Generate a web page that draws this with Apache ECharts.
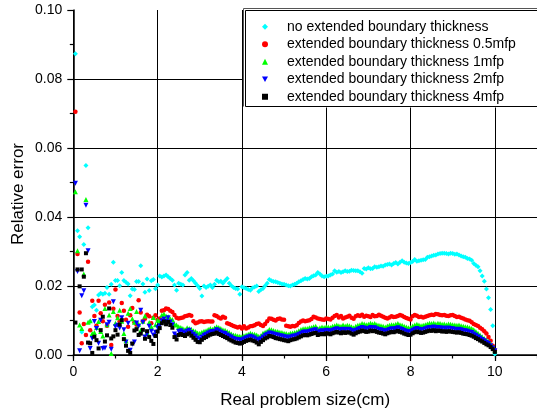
<!DOCTYPE html>
<html>
<head>
<meta charset="utf-8">
<script src="https://cdn.jsdelivr.net/npm/echarts@6/dist/echarts.min.js"></script>
<style>html,body{margin:0;padding:0;background:#fff}#c{width:537px;height:414px}</style>
</head>
<body>
<div id="c"></div>
<script>
// Sample positions: x = 0.05, 0.10, ... 10.00 cm
const xStep = 0.05;

const seriesNames = [
  'no extended boundary thickness',
  'extended boundary thickness 0.5mfp',
  'extended boundary thickness 1mfp',
  'extended boundary thickness 2mfp',
  'extended boundary thickness 4mfp'
];

const noExtended = [
  0.0873,0.0360,0.0343,0.0067,0.0320,0.0549,0.0369,0.0097,0.0140,0.0145,
  0.0130,0.0174,0.0179,0.0176,0.0179,0.0196,0.0176,0.0205,0.0269,0.0216,
  0.0216,0.0201,0.0239,0.0216,0.0211,0.0206,0.0172,0.0191,0.0190,0.0213,
  0.0213,0.0259,0.0206,0.0182,0.0220,0.0187,0.0215,0.0219,0.0192,0.0203,
  0.0229,0.0226,0.0229,0.0232,0.0227,0.0222,0.0217,0.0203,0.0188,0.0208,
  0.0205,0.0203,0.0232,0.0239,0.0217,0.0222,0.0215,0.0208,0.0201,0.0193,
  0.0171,0.0200,0.0196,0.0199,0.0203,0.0196,0.0205,0.0217,0.0212,0.0214,
  0.0208,0.0215,0.0222,0.0208,0.0201,0.0196,0.0193,0.0191,0.0176,0.0198,
  0.0195,0.0193,0.0190,0.0188,0.0194,0.0197,0.0200,0.0184,0.0189,0.0193,
  0.0201,0.0208,0.0219,0.0215,0.0213,0.0212,0.0210,0.0208,0.0206,0.0205,
  0.0203,0.0201,0.0200,0.0203,0.0205,0.0208,0.0212,0.0215,0.0219,0.0222,
  0.0220,0.0222,0.0227,0.0230,0.0232,0.0239,0.0235,0.0229,0.0227,0.0228,
  0.0229,0.0232,0.0235,0.0244,0.0240,0.0242,0.0239,0.0241,0.0244,0.0242,
  0.0243,0.0246,0.0245,0.0244,0.0244,0.0241,0.0237,0.0251,0.0249,0.0253,
  0.0250,0.0251,0.0256,0.0254,0.0256,0.0258,0.0257,0.0261,0.0262,0.0264,
  0.0261,0.0265,0.0268,0.0264,0.0269,0.0273,0.0269,0.0267,0.0265,0.0268,
  0.0271,0.0277,0.0272,0.0273,0.0275,0.0276,0.0277,0.0283,0.0285,0.0287,
  0.0289,0.0290,0.0293,0.0294,0.0295,0.0295,0.0294,0.0293,0.0295,0.0294,
  0.0292,0.0293,0.0290,0.0287,0.0285,0.0283,0.0280,0.0278,0.0275,0.0265,
  0.0260,0.0256,0.0244,0.0229,0.0214,0.0191,0.0166,0.0132,0.0085,0.0003
];

const ext05 = [
  0.0705,0.0293,0.0123,0.0034,0.0090,0.0058,0.0270,0.0072,0.0157,0.0113,
  0.0085,0.0157,0.0121,0.0098,0.0146,0.0085,0.0152,0.0029,0.0134,0.0190,
  0.0113,0.0098,0.0151,0.0128,0.0102,0.0082,0.0115,0.0136,0.0095,0.0088,
  0.0159,0.0123,0.0098,0.0105,0.0117,0.0112,0.0092,0.0108,0.0115,0.0102,
  0.0106,0.0128,0.0130,0.0135,0.0133,0.0128,0.0125,0.0116,0.0108,0.0106,
  0.0107,0.0109,0.0112,0.0114,0.0116,0.0114,0.0098,0.0092,0.0094,0.0097,
  0.0098,0.0096,0.0097,0.0098,0.0097,0.0097,0.0115,0.0113,0.0109,0.0106,
  0.0111,0.0108,0.0092,0.0090,0.0087,0.0084,0.0082,0.0080,0.0082,0.0077,
  0.0083,0.0077,0.0080,0.0083,0.0084,0.0086,0.0090,0.0091,0.0087,0.0084,
  0.0090,0.0098,0.0106,0.0105,0.0102,0.0100,0.0104,0.0106,0.0103,0.0102,
  0.0085,0.0083,0.0082,0.0084,0.0083,0.0086,0.0093,0.0097,0.0100,0.0098,
  0.0099,0.0101,0.0104,0.0111,0.0109,0.0106,0.0104,0.0103,0.0102,0.0106,
  0.0104,0.0103,0.0108,0.0113,0.0116,0.0109,0.0113,0.0106,0.0109,0.0111,
  0.0114,0.0108,0.0105,0.0112,0.0115,0.0113,0.0117,0.0111,0.0114,0.0112,
  0.0110,0.0116,0.0112,0.0113,0.0117,0.0114,0.0111,0.0108,0.0106,0.0109,
  0.0112,0.0110,0.0111,0.0113,0.0116,0.0114,0.0110,0.0107,0.0105,0.0103,
  0.0112,0.0116,0.0114,0.0110,0.0111,0.0109,0.0111,0.0113,0.0115,0.0117,
  0.0116,0.0119,0.0118,0.0116,0.0115,0.0116,0.0114,0.0113,0.0115,0.0116,
  0.0113,0.0110,0.0111,0.0108,0.0106,0.0103,0.0101,0.0099,0.0095,0.0090,
  0.0087,0.0084,0.0079,0.0075,0.0069,0.0062,0.0052,0.0041,0.0027,0.0012
];

const ext1 = [
  0.0473,0.0302,0.0087,0.0077,0.0235,0.0451,0.0095,0.0099,0.0062,0.0065,
  0.0080,0.0097,0.0068,0.0055,0.0135,0.0088,0.0116,0.0004,0.0126,0.0092,
  0.0108,0.0130,0.0098,0.0062,0.0041,0.0121,0.0135,0.0105,0.0095,0.0126,
  0.0089,0.0072,0.0098,0.0113,0.0065,0.0094,0.0082,0.0109,0.0088,0.0101,
  0.0097,0.0116,0.0119,0.0113,0.0111,0.0105,0.0103,0.0090,0.0087,0.0082,
  0.0080,0.0077,0.0074,0.0079,0.0077,0.0075,0.0070,0.0068,0.0064,0.0063,
  0.0066,0.0069,0.0070,0.0074,0.0077,0.0075,0.0078,0.0082,0.0080,0.0077,
  0.0073,0.0072,0.0068,0.0065,0.0061,0.0058,0.0057,0.0055,0.0054,0.0053,
  0.0056,0.0058,0.0060,0.0063,0.0061,0.0060,0.0058,0.0054,0.0056,0.0063,
  0.0066,0.0069,0.0074,0.0073,0.0071,0.0069,0.0068,0.0066,0.0065,0.0063,
  0.0062,0.0060,0.0063,0.0064,0.0065,0.0067,0.0070,0.0074,0.0076,0.0077,
  0.0077,0.0079,0.0080,0.0082,0.0083,0.0077,0.0079,0.0081,0.0080,0.0082,
  0.0081,0.0080,0.0083,0.0085,0.0087,0.0085,0.0083,0.0087,0.0084,0.0086,
  0.0085,0.0082,0.0079,0.0083,0.0086,0.0088,0.0091,0.0090,0.0088,0.0089,
  0.0092,0.0090,0.0091,0.0088,0.0086,0.0085,0.0083,0.0081,0.0084,0.0086,
  0.0088,0.0087,0.0089,0.0091,0.0088,0.0086,0.0083,0.0081,0.0079,0.0080,
  0.0084,0.0087,0.0089,0.0087,0.0085,0.0086,0.0088,0.0090,0.0092,0.0091,
  0.0093,0.0090,0.0092,0.0091,0.0089,0.0090,0.0088,0.0090,0.0089,0.0088,
  0.0087,0.0086,0.0087,0.0085,0.0083,0.0082,0.0081,0.0079,0.0077,0.0073,
  0.0068,0.0063,0.0058,0.0053,0.0048,0.0043,0.0039,0.0032,0.0024,0.0014
];

const ext2 = [
  0.0498,0.0242,0.0012,0.0172,0.0186,0.0434,0.0302,0.0019,0.0048,0.0097,
  0.0077,0.0034,0.0101,0.0019,0.0020,0.0088,0.0095,0.0017,0.0154,0.0082,
  0.0086,0.0078,0.0108,0.0073,0.0038,0.0092,0.0014,0.0031,0.0038,0.0093,
  0.0083,0.0130,0.0095,0.0052,0.0061,0.0083,0.0069,0.0058,0.0066,0.0079,
  0.0085,0.0099,0.0104,0.0098,0.0108,0.0096,0.0088,0.0061,0.0055,0.0068,
  0.0070,0.0067,0.0064,0.0069,0.0072,0.0065,0.0060,0.0055,0.0049,0.0046,
  0.0052,0.0057,0.0060,0.0064,0.0067,0.0068,0.0069,0.0073,0.0070,0.0067,
  0.0064,0.0062,0.0058,0.0055,0.0052,0.0048,0.0046,0.0045,0.0043,0.0044,
  0.0047,0.0050,0.0052,0.0054,0.0052,0.0049,0.0046,0.0043,0.0047,0.0052,
  0.0057,0.0060,0.0064,0.0063,0.0061,0.0059,0.0058,0.0056,0.0055,0.0053,
  0.0052,0.0050,0.0052,0.0054,0.0055,0.0057,0.0060,0.0063,0.0066,0.0067,
  0.0066,0.0068,0.0070,0.0072,0.0073,0.0067,0.0069,0.0070,0.0069,0.0072,
  0.0071,0.0069,0.0072,0.0074,0.0076,0.0074,0.0072,0.0075,0.0073,0.0075,
  0.0074,0.0071,0.0068,0.0072,0.0075,0.0077,0.0080,0.0078,0.0076,0.0077,
  0.0080,0.0078,0.0079,0.0076,0.0074,0.0073,0.0071,0.0069,0.0072,0.0074,
  0.0076,0.0075,0.0077,0.0079,0.0076,0.0074,0.0071,0.0069,0.0067,0.0068,
  0.0072,0.0075,0.0077,0.0075,0.0073,0.0074,0.0076,0.0078,0.0080,0.0079,
  0.0081,0.0078,0.0080,0.0079,0.0077,0.0078,0.0076,0.0078,0.0077,0.0076,
  0.0075,0.0074,0.0075,0.0073,0.0071,0.0070,0.0069,0.0067,0.0065,0.0061,
  0.0057,0.0053,0.0049,0.0045,0.0041,0.0037,0.0033,0.0027,0.0020,0.0012
];

const ext4 = [
  0.0094,0.0248,0.0199,0.0248,0.0227,0.0295,0.0036,0.0034,0.0006,0.0053,
  0.0043,0.0019,0.0072,0.0111,0.0039,0.0057,0.0135,0.0048,0.0054,0.0072,
  0.0059,0.0088,0.0101,0.0046,0.0027,0.0012,0.0006,0.0033,0.0071,0.0075,
  0.0058,0.0062,0.0073,0.0047,0.0069,0.0052,0.0041,0.0032,0.0055,0.0068,
  0.0078,0.0092,0.0097,0.0089,0.0096,0.0087,0.0079,0.0052,0.0045,0.0058,
  0.0061,0.0058,0.0055,0.0060,0.0063,0.0056,0.0050,0.0044,0.0038,0.0037,
  0.0044,0.0049,0.0052,0.0056,0.0059,0.0061,0.0062,0.0065,0.0061,0.0058,
  0.0055,0.0052,0.0049,0.0045,0.0042,0.0039,0.0036,0.0035,0.0033,0.0035,
  0.0038,0.0041,0.0043,0.0045,0.0042,0.0040,0.0036,0.0031,0.0038,0.0043,
  0.0048,0.0051,0.0055,0.0054,0.0052,0.0049,0.0048,0.0046,0.0045,0.0043,
  0.0042,0.0040,0.0043,0.0045,0.0046,0.0048,0.0051,0.0054,0.0057,0.0058,
  0.0057,0.0059,0.0061,0.0063,0.0064,0.0058,0.0060,0.0061,0.0060,0.0063,
  0.0062,0.0060,0.0063,0.0065,0.0067,0.0065,0.0063,0.0066,0.0064,0.0066,
  0.0065,0.0062,0.0059,0.0063,0.0066,0.0068,0.0071,0.0069,0.0067,0.0068,
  0.0071,0.0069,0.0070,0.0067,0.0065,0.0064,0.0062,0.0060,0.0063,0.0065,
  0.0067,0.0066,0.0068,0.0070,0.0067,0.0065,0.0062,0.0060,0.0058,0.0059,
  0.0063,0.0066,0.0068,0.0066,0.0064,0.0065,0.0067,0.0069,0.0071,0.0070,
  0.0072,0.0069,0.0071,0.0070,0.0068,0.0069,0.0067,0.0069,0.0068,0.0067,
  0.0066,0.0065,0.0066,0.0064,0.0062,0.0061,0.0060,0.0058,0.0056,0.0053,
  0.0049,0.0046,0.0042,0.0039,0.0035,0.0031,0.0028,0.0023,0.0017,0.0009
];

const xTicksMajor = [0, 2, 4, 6, 8, 10];

const FONT = '"Liberation Sans", Arial, sans-serif';
const xValues = noExtended.map((_, i) => +((i + 1) * xStep).toFixed(2));
const pairs = arr => arr.map((v, i) => [xValues[i], v]);

const styles = [
  { symbol: 'diamond', size: 5, rotate: 0, color: '#00FFFF', icon: 'diamond' },
  { symbol: 'circle', size: 4.5, rotate: 0, color: '#FF0000', icon: 'circle' },
  { symbol: 'triangle', size: 5, rotate: 0, color: '#00FF00', icon: 'triangle' },
  { symbol: 'triangle', size: 5, rotate: 180, color: '#0000FF', icon: 'path://M0,0L10,0L5,9Z' },
  { symbol: 'rect', size: 4, rotate: 0, color: '#000000', icon: 'rect' }
];
const allData = [noExtended, ext05, ext1, ext2, ext4];

const chart = echarts.init(document.getElementById('c'), null, { renderer: 'canvas' });
chart.setOption({
  animation: false,
  backgroundColor: '#ffffff',
  grid: { left: 73.3, top: 10, width: 466.4, height: 345 },
  xAxis: [
    {
      type: 'value', min: 0, max: 11, interval: 2, position: 'bottom',
      axisLine: { show: true, onZero: false, lineStyle: { color: '#000', width: 1.5 } },
      axisTick: { show: true, inside: false, length: 6, lineStyle: { color: '#000', width: 1.2 } },
      axisLabel: {
        show: true, margin: 10, color: '#000', fontSize: 14, fontFamily: FONT,
        showMaxLabel: false,
        formatter: v => (xTicksMajor.indexOf(v) >= 0 ? String(v) : '')
      },
      splitLine: { show: true, lineStyle: { color: '#000', width: 1 } },
      name: 'Real problem size(cm)', nameLocation: 'middle', nameGap: 37,
      nameTextStyle: { fontSize: 17, fontFamily: FONT, color: '#000' }
    },
    {
      type: 'value', min: 0, max: 11, interval: 1, position: 'bottom',
      axisLine: { show: false },
      axisTick: { show: true, inside: false, length: 3.5, lineStyle: { color: '#000', width: 1.2 } },
      axisLabel: { show: false },
      splitLine: { show: false }
    }
  ],
  yAxis: {
    type: 'value', min: 0, max: 0.1, interval: 0.02,
    axisLine: { show: true, lineStyle: { color: '#000', width: 1.5 } },
    axisTick: { show: true, inside: false, length: 6, lineStyle: { color: '#000', width: 1.2 } },
    minorTick: { show: true, splitNumber: 2, length: 3.5, lineStyle: { color: '#000', width: 1.2 } },
    axisLabel: { margin: 11, color: '#000', fontSize: 14, fontFamily: FONT, formatter: v => v.toFixed(2) },
    splitLine: { show: true, showMaxLine: false, lineStyle: { color: '#000', width: 1 } }
  },
  legend: {
    orient: 'vertical', left: 244, top: 10,
    itemWidth: 6, itemHeight: 6, itemGap: 0,
    padding: [8, 90, 2, 18],
    backgroundColor: '#ffffff', borderWidth: 0,
    textStyle: { fontSize: 14, fontFamily: FONT, color: '#000', lineHeight: 17.5, padding: [0, 0, 0, 14] },
    data: seriesNames.map((n, k) => ({ name: n, icon: styles[k].icon }))
  },
  graphic: [
    {
      type: 'text', x: 18, y: 194, rotation: Math.PI / 2,
      style: { text: 'Relative error', font: '17px ' + FONT, fill: '#000', textAlign: 'center', textVerticalAlign: 'middle' }
    },
    {
      type: 'rect', z: 100, silent: true,
      shape: { x: 245.5, y: 10.5, width: 340, height: 96 },
      style: { fill: null, stroke: '#000', lineWidth: 1 }
    },
    {
      type: 'polyline', z: 100, silent: true,
      shape: { points: [[243.5, 106.5], [243.5, 8.5], [600, 8.5]] },
      style: { fill: null, stroke: '#555', lineWidth: 1 }
    }
  ],
  series: allData.map((arr, k) => ({
    name: seriesNames[k],
    type: 'scatter',
    xAxisIndex: 0,
    symbol: styles[k].symbol,
    symbolSize: styles[k].size,
    symbolRotate: styles[k].rotate,
    itemStyle: { color: styles[k].color, opacity: 1 },
    emphasis: { disabled: true },
    data: pairs(arr)
  }))
});
</script>
</body>
</html>
